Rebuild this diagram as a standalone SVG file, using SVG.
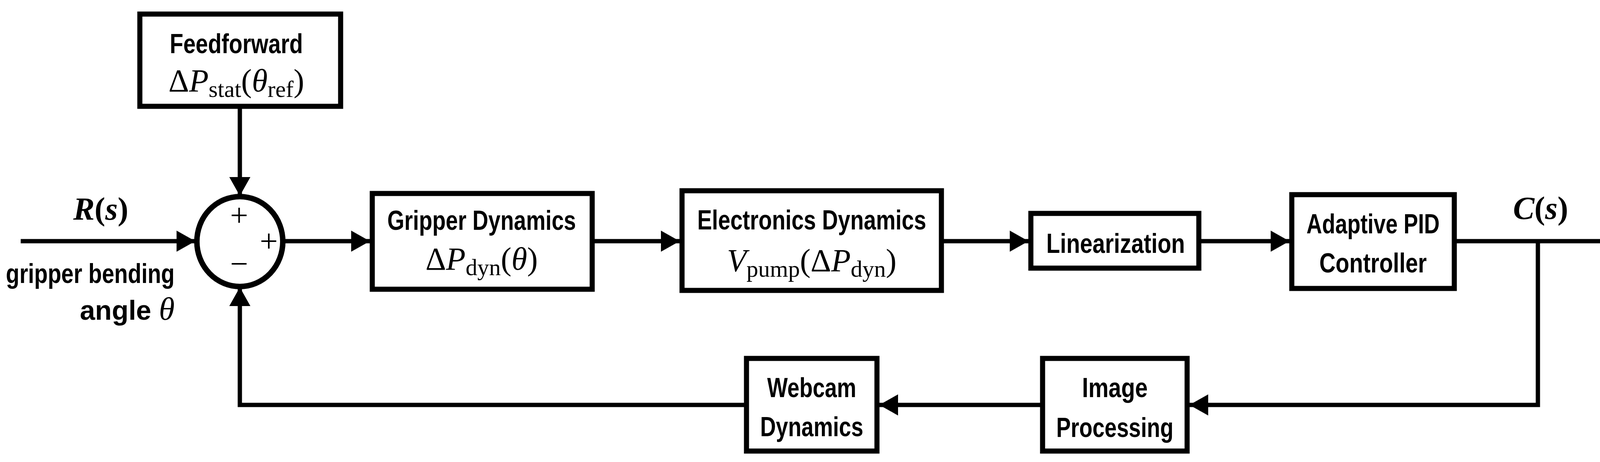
<svg xmlns="http://www.w3.org/2000/svg" width="4184" height="1182" viewBox="0 0 4184 1182">
<style>
.b{fill:#fff;stroke:#000;stroke-width:13}
.t{font-family:"Liberation Sans",Arial,sans-serif;font-weight:bold;font-size:70px;text-anchor:middle}
.m{font-family:"Liberation Serif","Times New Roman",serif;font-size:82px;text-anchor:middle}
.c{fill:none;stroke:#000;stroke-width:11}
</style>
<defs>
<marker id="a" markerUnits="userSpaceOnUse" markerWidth="60" markerHeight="60" refX="48" refY="30" orient="auto"><path d="M0,3 L48,30 L0,57 Z"/></marker>
</defs>
<g id="connectors">
<path class="c" d="M53,617 H500" marker-end="url(#a)"/>
<path class="c" d="M614,277 V501" marker-end="url(#a)"/>
<path class="c" d="M727,617 H947" marker-end="url(#a)"/>
<path class="c" d="M1522,617 H1740" marker-end="url(#a)"/>
<path class="c" d="M2416,617 H2633" marker-end="url(#a)"/>
<path class="c" d="M3075,617 H3301" marker-end="url(#a)"/>
<path class="c" d="M3729,617 H4166" marker-end="url(#a)"/>
<path class="c" d="M3937,617 V1036 H3045" marker-end="url(#a)"/>
<path class="c" d="M2663,1036 H2251" marker-end="url(#a)"/>
<path class="c" d="M1905,1036 H614 V735" marker-end="url(#a)"/>
</g>
<g id="input">
<text x="258" y="562" class="m" font-weight="bold"><tspan font-style="italic">R</tspan>(<tspan font-style="italic">s</tspan>)</text>
<text x="447" y="724" class="t" style="text-anchor:end" textLength="432" lengthAdjust="spacingAndGlyphs">gripper bending</text>
<text x="447" y="818" class="t" style="text-anchor:end">angle <tspan font-family="Liberation Serif" font-weight="normal" font-style="italic" font-size="82">θ</tspan></text>
</g>
<g id="feedforward">
<rect class="b" x="358" y="36" width="514" height="236"/>
<text x="605" y="136" class="t" textLength="341" lengthAdjust="spacingAndGlyphs">Feedforward</text>
<text x="605" y="234" class="m">Δ<tspan font-style="italic">P</tspan><tspan font-size="60" dy="14">stat</tspan><tspan dy="-14">(</tspan><tspan font-style="italic">θ</tspan><tspan font-size="60" dy="14">ref</tspan><tspan dy="-14">)</tspan></text>
</g>
<g id="sum">
<ellipse cx="614" cy="618" rx="110" ry="115" fill="#fff" stroke="#000" stroke-width="14"/>
<text x="612" y="578" class="m" font-size="66">+</text>
<text x="688" y="644" class="m" font-size="66">+</text>
<text x="612" y="702" class="m" font-size="66">−</text>
</g>
<g id="gripper">
<rect class="b" x="953" y="495" width="563" height="245"/>
<text x="1233" y="588" class="t" textLength="483" lengthAdjust="spacingAndGlyphs">Gripper Dynamics</text>
<text x="1233" y="690" class="m">Δ<tspan font-style="italic">P</tspan><tspan font-size="60" dy="14">dyn</tspan><tspan dy="-14">(</tspan><tspan font-style="italic">θ</tspan>)</text>
</g>
<g id="electronics">
<rect class="b" x="1746" y="488" width="664" height="255"/>
<text x="2078" y="587" class="t" textLength="586" lengthAdjust="spacingAndGlyphs">Electronics Dynamics</text>
<text x="2078" y="694" class="m"><tspan font-style="italic">V</tspan><tspan font-size="60" dy="14">pump</tspan><tspan dy="-14">(Δ</tspan><tspan font-style="italic">P</tspan><tspan font-size="60" dy="14">dyn</tspan><tspan dy="-14">)</tspan></text>
</g>
<g id="linearization">
<rect class="b" x="2639" y="546" width="430" height="140"/>
<text x="2856" y="647" class="t" textLength="355" lengthAdjust="spacingAndGlyphs">Linearization</text>
</g>
<g id="pid">
<rect class="b" x="3307" y="498" width="416" height="240"/>
<text x="3515" y="597" class="t" textLength="341" lengthAdjust="spacingAndGlyphs">Adaptive PID</text>
<text x="3515" y="697" class="t" textLength="275" lengthAdjust="spacingAndGlyphs">Controller</text>
</g>
<g id="output">
<text x="3944" y="560" class="m" font-weight="bold"><tspan font-style="italic">C</tspan>(<tspan font-style="italic">s</tspan>)</text>
</g>
<g id="image">
<rect class="b" x="2669" y="917" width="370" height="237"/>
<text x="2854" y="1016" class="t" textLength="168" lengthAdjust="spacingAndGlyphs">Image</text>
<text x="2854" y="1118" class="t" textLength="300" lengthAdjust="spacingAndGlyphs">Processing</text>
</g>
<g id="webcam">
<rect class="b" x="1911" y="917" width="334" height="237"/>
<text x="2078" y="1016" class="t" textLength="228" lengthAdjust="spacingAndGlyphs">Webcam</text>
<text x="2078" y="1116" class="t" textLength="264" lengthAdjust="spacingAndGlyphs">Dynamics</text>
</g>
</svg>
